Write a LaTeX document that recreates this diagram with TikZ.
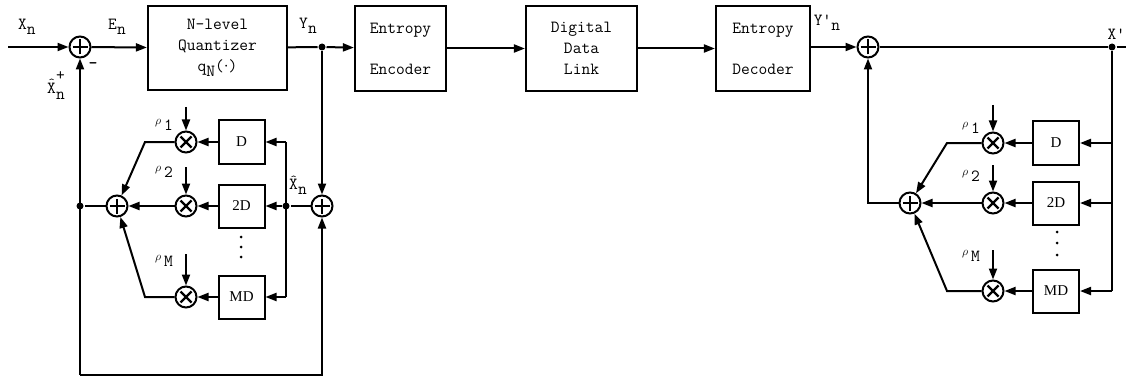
\documentclass[tikz,border=0pt]{standalone}
\usepackage{fontspec}
\newfontfamily\dfont{Liberation Serif}
\usetikzlibrary{arrows.meta}
\newcommand{\sbs}[2]{#1\raisebox{-0.65ex}{#2}}
\newcommand{\rholab}[1]{{\fontsize{12}{12}\selectfont$\rho$}\,\raisebox{-0.75ex}{#1}}
\newcommand{\prm}{\textquotesingle}
\newcommand{\hatX}{\makebox[0pt][l]{\kern1.3pt\raisebox{6.5pt}{\fontsize{12}{12}\selectfont\textasciicircum}}X}
\begin{document}
\begin{tikzpicture}[x=1pt,y=-1pt,
  line width=2pt,
  arr/.style={-{Triangle[length=11pt,width=8pt]}},
  blk/.style={draw, line width=2.2pt, font=\ttfamily\fontsize{17}{21}\selectfont, align=center, inner sep=0pt},
  dly/.style={draw, line width=2pt, font=\dfont\fontsize{15}{15}\selectfont, minimum width=46pt, minimum height=43pt, inner sep=0pt},
  sumn/.style={circle, draw, line width=2pt, minimum size=21pt, inner sep=0pt,
    path picture={\draw[line width=2.2pt]
      ([xshift=-7.5pt]path picture bounding box.center) -- ([xshift=7.5pt]path picture bounding box.center)
      ([yshift=-7.5pt]path picture bounding box.center) -- ([yshift=7.5pt]path picture bounding box.center);}},
  muln/.style={circle, draw, line width=2pt, minimum size=21pt, inner sep=0pt,
    path picture={\draw[line width=2.2pt]
      ([shift={(-5.5pt,-5.5pt)}]path picture bounding box.center) -- ([shift={(5.5pt,5.5pt)}]path picture bounding box.center)
      ([shift={(-5.5pt,5.5pt)}]path picture bounding box.center) -- ([shift={(5.5pt,-5.5pt)}]path picture bounding box.center);}},
  dot/.style={circle, fill, inner sep=0pt, minimum size=7pt},
  sdot/.style={circle, fill, inner sep=0pt, minimum size=3pt},
  lbl/.style={font=\ttfamily\fontsize{17}{17}\selectfont, inner sep=0pt}]
\useasboundingbox (0,0) rectangle (1126,377);

% ---------- main chain ----------
\coordinate (in) at (8,47);
\node[sumn] (add1) at (80,47) {};
\node[blk, minimum width=139pt, minimum height=84pt] (quant) at (217.5,48) {N-level\\Quantizer\\q\raisebox{-0.6ex}{N}(\raisebox{0.2ex}{$\cdot$})};
\node[dot] (jY) at (322,47) {};
\node[blk, minimum width=91pt, minimum height=85pt] (enc) at (400.5,48.5) {Entropy\\[20pt]Encoder};
\node[blk, minimum width=111pt, minimum height=85pt] (link) at (581.5,48.5) {Digital\\Data\\Link};
\node[blk, minimum width=94pt, minimum height=85pt] (dec) at (763,48.5) {Entropy\\[20pt]Decoder};
\node[sumn] (add2) at (868,47) {};
\node[dot] (jX) at (1112,47) {};
\coordinate (out) at (1130,47);

\draw[arr] (in) -- (add1);
\draw[arr] (add1) -- (quant);
\draw (quant) -- (jY);
\draw[arr] (jY) -- (enc);
\draw[arr] (enc) -- (link);
\draw[arr] (link) -- (dec);
\draw[arr] (dec.east |- add2) -- (add2);
\draw (add2) -- (jX) -- (out);

% labels main
\node[lbl] (lX) at (27,27) {\sbs{X}{n}};
\node[lbl] (lE) at (117,27) {\sbs{E}{n}};
\node[lbl] (lY) at (308,26) {\sbs{Y}{n}};
\node[lbl] (lYp) at (827,23) {\sbs{Y\prm}{n}};
\node[lbl, anchor=east] (lXp) at (1126,34) {X\prm};
\node[lbl] (lXh) at (56,86) {\hatX\raisebox{-0.9ex}{\rlap{\raisebox{2.6ex}{+}}n}};
\node[lbl, font=\bfseries\ttfamily\fontsize{17}{17}\selectfont] (lminus) at (93,66) {-};

% ---------- encoder predictor ----------
\node[dot] (jL) at (80,206) {};
\node[sumn] (sumL) at (117,206) {};
\node[muln] (m1) at (186,142) {};
\node[muln] (m2) at (186,206) {};
\node[muln] (mM) at (186,297) {};
\node[dly] (d1) at (241.5,142) {D};
\node[dly] (d2) at (241.5,206) {2D};
\node[dly] (dM) at (241.5,297) {MD};
\coordinate (v1) at (286,142);
\node[dot] (jXh) at (286,206) {};
\coordinate (vM) at (286,297);
\node[sumn] (sum4) at (322,206) {};
\coordinate (bl) at (80,375);
\coordinate (br) at (322,375);
\coordinate (c1) at (145,142);
\coordinate (cM) at (145,297);
\coordinate (r1) at (186,107);
\coordinate (r2) at (186,167);
\coordinate (rM) at (186,254);

\draw[arr] (jY) -- (sum4);
\draw (sum4) -- (jXh);
\draw (v1) -- (vM);
\draw[arr] (v1) -- (d1);
\draw[arr] (jXh) -- (d2);
\draw[arr] (vM) -- (dM);
\draw[arr] (d1) -- (m1);
\draw[arr] (d2) -- (m2);
\draw[arr] (dM) -- (mM);
\draw[arr] (r1) -- (m1);
\draw[arr] (r2) -- (m2);
\draw[arr] (rM) -- (mM);
\draw[arr] (m1) -- (c1) -- (sumL);
\draw[arr] (m2) -- (sumL);
\draw[arr] (mM) -- (cM) -- (sumL);
\draw (sumL) -- (jL);
\draw[arr] (bl) -- (add1);
\draw[arr] (bl) -- (br) -- (sum4);

\node[lbl] (lr1) at (164,125) {\rholab{1}};
\node[lbl] (lr2) at (164,172) {\rholab{2}};
\node[lbl] (lrM) at (164,261) {\rholab{M}};
\node[lbl] (lXhat) at (298,185) {\sbs{\hatX}{n}};
\node[sdot] (dd1) at (241,237) {};
\node[sdot] (dd2) at (241,247) {};
\node[sdot] (dd3) at (241,257) {};

% ---------- decoder predictor ----------
\node[sumn] (sumR) at (910,203) {};
\coordinate (cR) at (868,203);
\node[muln] (m1R) at (993,143) {};
\node[muln] (m2R) at (993,203) {};
\node[muln] (mMR) at (993,291) {};
\node[dly] (d1R) at (1056,143) {D};
\node[dly] (d2R) at (1056,203) {2D};
\node[dly] (dMR) at (1056,291) {MD};
\coordinate (w1) at (1112,143);
\coordinate (w2) at (1112,203);
\coordinate (wM) at (1112,291);
\coordinate (c1R) at (947,143);
\coordinate (cMR) at (947,291);
\coordinate (r1R) at (993,105);
\coordinate (r2R) at (993,165);
\coordinate (rMR) at (993,250);

\draw (jX) -- (wM);
\draw[arr] (w1) -- (d1R);
\draw[arr] (w2) -- (d2R);
\draw[arr] (wM) -- (dMR);
\draw[arr] (d1R) -- (m1R);
\draw[arr] (d2R) -- (m2R);
\draw[arr] (dMR) -- (mMR);
\draw[arr] (r1R) -- (m1R);
\draw[arr] (r2R) -- (m2R);
\draw[arr] (rMR) -- (mMR);
\draw[arr] (m1R) -- (c1R) -- (sumR);
\draw[arr] (m2R) -- (sumR);
\draw[arr] (mMR) -- (cMR) -- (sumR);
\draw[arr] (sumR) -- (cR) -- (add2);

\node[lbl] (lr1R) at (971,128) {\rholab{1}};
\node[lbl] (lr2R) at (971,176) {\rholab{2}};
\node[lbl] (lrMR) at (971,256) {\rholab{M}};
\node[sdot] (de1) at (1057,232) {};
\node[sdot] (de2) at (1057,243) {};
\node[sdot] (de3) at (1057,255) {};
\end{tikzpicture}
\end{document}
